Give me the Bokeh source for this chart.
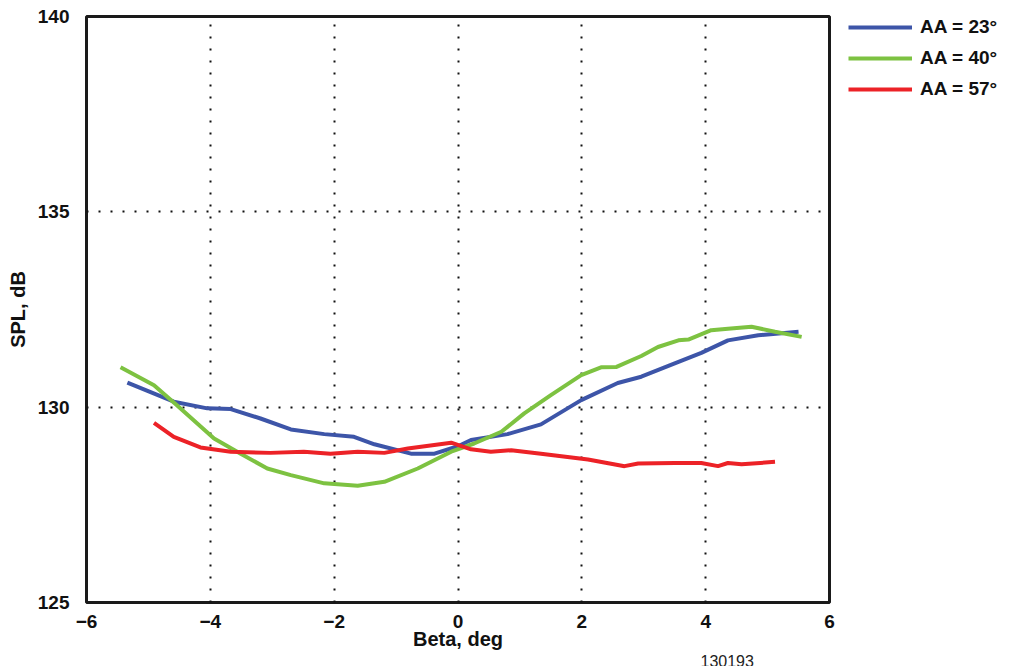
from bokeh.plotting import figure
from bokeh.models import Legend, LegendItem, FixedTicker, Title, Range1d
from bokeh.embed import file_html
from bokeh.resources import INLINE

# AA = 23 deg
beta_23 = [-5.34, -4.59, -4.05, -3.67, -3.19, -2.70, -2.16, -1.68, -1.35, -0.76, -0.38, 0.0, 0.21,
           0.80, 1.34, 1.99, 2.58, 2.96, 3.50, 3.93, 4.36, 4.85, 5.50]
spl_23 = [130.63, 130.14, 129.97, 129.95, 129.71, 129.43, 129.31, 129.24, 129.05, 128.81, 128.81, 129.0, 129.16,
          129.31, 129.56, 130.18, 130.62, 130.78, 131.12, 131.39, 131.71, 131.84, 131.93]
# AA = 40 deg
beta_40 = [-5.45, -4.91, -4.54, -3.94, -3.51, -3.08, -2.70, -2.16, -1.62, -1.19, -0.65, -0.11, 0.26, 0.70,
           1.07, 1.50, 1.99, 2.31, 2.56, 2.96, 3.23, 3.56, 3.72, 4.09, 4.36, 4.74, 5.12, 5.55]
spl_40 = [131.02, 130.56, 130.05, 129.2, 128.81, 128.43, 128.26, 128.05, 127.99, 128.09, 128.43, 128.86, 129.07, 129.37,
          129.84, 130.31, 130.82, 131.02, 131.03, 131.31, 131.54, 131.71, 131.73, 131.97, 132.01, 132.06, 131.93, 131.80]
# AA = 57 deg
beta_57 = [-4.91, -4.59, -4.16, -3.67, -3.03, -2.49, -2.06, -1.62, -1.19, -0.81, -0.11, 0.21, 0.53, 0.86,
           1.34, 2.10, 2.69, 2.91, 3.50, 3.93, 4.20, 4.36, 4.58, 5.12]
spl_57 = [129.6, 129.24, 128.97, 128.86, 128.83, 128.86, 128.81, 128.86, 128.83, 128.94, 129.09, 128.92, 128.86, 128.9,
          128.81, 128.66, 128.49, 128.56, 128.57, 128.57, 128.49, 128.57, 128.54, 128.6]

x_ticks = [-6, -4, -2, 0, 2, 4, 6]
y_ticks = [125, 130, 135, 140]
series_labels = ["AA = 23°", "AA = 40°", "AA = 57°"]
colors = ["#3d55a8", "#7dc241", "#ec2227"]
figure_id = "130193"

FONT = "Liberation Sans"

p = figure(frame_width=743, frame_height=586, output_backend="svg", toolbar_location=None,
           x_range=Range1d(-6, 6), y_range=Range1d(125, 140))
p.min_border_left = 86
p.min_border_top = 16
p.min_border_bottom = 0
p.min_border_right = 170

p.outline_line_color = "#1a1a1a"
p.outline_line_width = 3

p.xaxis.ticker = FixedTicker(ticks=x_ticks)
p.yaxis.ticker = FixedTicker(ticks=y_ticks)
p.xaxis.major_label_overrides = {t: (str(t).replace("-", "\u2212")) for t in x_ticks}
for ax in [p.xaxis, p.yaxis]:
    ax.axis_line_color = None
    ax.major_tick_line_color = None
    ax.minor_tick_line_color = None
    ax.major_label_text_font = FONT
    ax.major_label_text_font_style = "bold"
    ax.major_label_text_font_size = "19px"
    ax.major_label_text_color = "#111111"
    ax.axis_label_text_font = FONT
    ax.axis_label_text_font_style = "bold"
    ax.axis_label_text_font_size = "20px"
    ax.axis_label_text_color = "#111111"
p.xaxis.axis_label = "Beta, deg"
p.yaxis.axis_label = "SPL, dB"
p.xaxis.major_label_standoff = 6
p.yaxis.major_label_standoff = 11
p.xaxis.axis_label_standoff = -3
p.yaxis.axis_label_standoff = 6

for g in [p.xgrid, p.ygrid]:
    g.grid_line_color = "#111111"
    g.grid_line_width = 2
    g.grid_line_dash = "2 10"

r1 = p.line(beta_23, spl_23, line_color=colors[0], line_width=4)
r2 = p.line(beta_40, spl_40, line_color=colors[1], line_width=4)
r3 = p.line(beta_57, spl_57, line_color=colors[2], line_width=4)

legend = Legend(items=[LegendItem(label=series_labels[0], renderers=[r1]),
                       LegendItem(label=series_labels[1], renderers=[r2]),
                       LegendItem(label=series_labels[2], renderers=[r3])])
legend.border_line_color = None
legend.background_fill_alpha = 0
legend.glyph_width = 64
legend.glyph_height = 20
legend.label_standoff = 8
legend.spacing = 9
legend.padding = 0
legend.margin = 0
legend.label_text_font = FONT
legend.label_text_font_style = "bold"
legend.label_text_font_size = "19px"
legend.label_text_color = "#111111"
legend.label_height = 20
legend.location = (19, 502)
p.add_layout(legend, "right")

note = Title(text=figure_id, align="left", offset=614, text_font=FONT, text_font_size="16px",
             text_font_style="normal", text_color="#222222", standoff=0, text_line_height=0.7)
p.add_layout(note, "below")

open("out.html", "w").write(file_html(p, INLINE))
